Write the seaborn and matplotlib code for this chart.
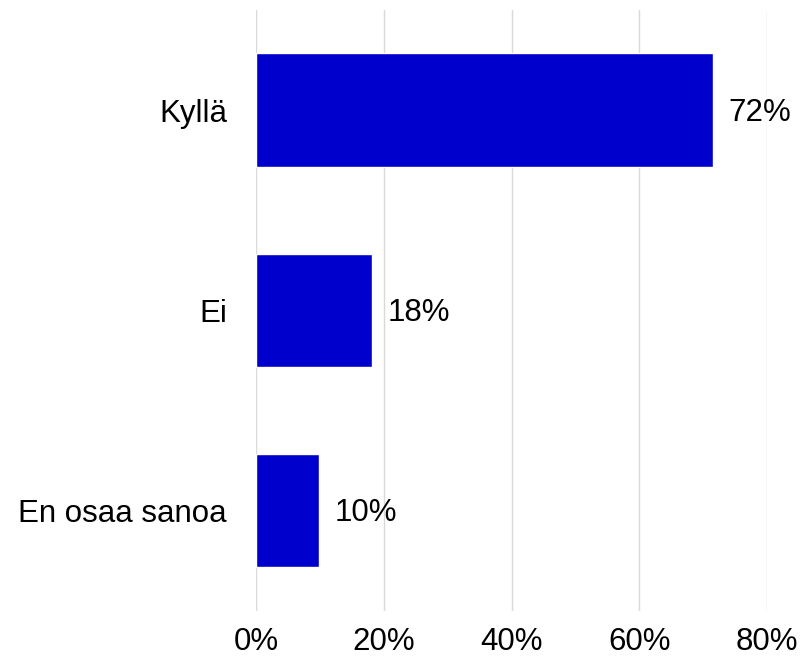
import matplotlib
matplotlib.use("Agg")
import matplotlib.pyplot as plt
import seaborn as sns
import pandas as pd
from matplotlib.ticker import FuncFormatter

categories = ["Kyllä", "Ei", "En osaa sanoa"]
shares = [0.716, 0.182, 0.099]
value_labels = ["72%", "18%", "10%"]
x_ticks = [0.0, 0.2, 0.4, 0.6, 0.8]

sns.set_theme(style="white")
plt.rcParams['font.family'] = ['Liberation Sans', 'DejaVu Sans']

df = pd.DataFrame({"category": categories, "share": shares})

fig = plt.figure(figsize=(8.03, 6.61), dpi=100)
ax = fig.add_axes([0.319, 0.076, 0.636, 0.909])

sns.barplot(data=df, x="share", y="category", color="#0000CC", saturation=1,
            width=0.565, ax=ax, zorder=3)

for i, (v, lab) in enumerate(zip(shares, value_labels)):
    ax.annotate(lab, (v, i), xytext=(11, -2), textcoords="offset points",
                va="center", ha="left", fontsize=22.5, color="black")

ax.set_xlim(0, 0.8)
ax.set_ylim(2.5, -0.5)
ax.set_xticks(x_ticks)
ax.xaxis.set_major_formatter(FuncFormatter(lambda v, p: f"{v*100:.0f}%"))
ax.grid(axis="x", color="#d9d9d9", linewidth=1, zorder=0)
ax.tick_params(axis="both", length=0, labelsize=22.5, colors="black")
ax.tick_params(axis="x", pad=12)
ax.tick_params(axis="y", pad=21)
ax.set_xlabel("")
ax.set_ylabel("")
for s in ax.spines.values():
    s.set_visible(False)

fig.savefig("out.png", dpi=100)
